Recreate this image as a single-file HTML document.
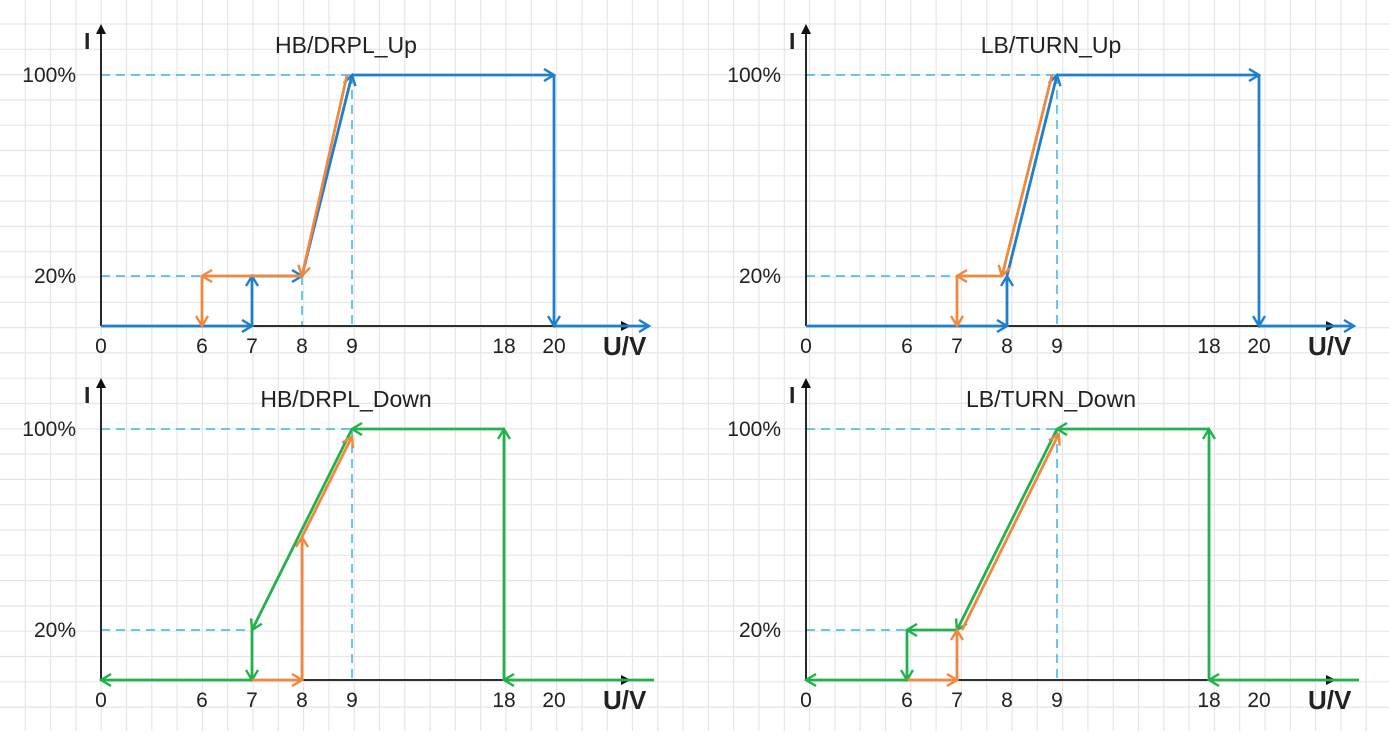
<!DOCTYPE html>
<html><head><meta charset="utf-8"><style>
html,body{margin:0;padding:0;background:#fff}
svg text{font-family:"Liberation Sans",sans-serif;fill:#222}
</style></head><body>
<svg id="c" width="1389" height="731" viewBox="0 0 1389 731" xmlns="http://www.w3.org/2000/svg">
<defs>
<marker id="ax" markerWidth="10" markerHeight="10" refX="8" refY="5" orient="auto" markerUnits="userSpaceOnUse"><path d="M0,0 L10,5 L0,10 Z" fill="#111"/></marker>
<marker id="mb" markerWidth="14" markerHeight="14" refX="12" refY="7" orient="auto" markerUnits="userSpaceOnUse"><path d="M2,1 L12,7 L2,13" fill="none" stroke="#1f7fce" stroke-width="2.4"/></marker>
<marker id="mo" markerWidth="14" markerHeight="14" refX="12" refY="7" orient="auto" markerUnits="userSpaceOnUse"><path d="M2,1 L12,7 L2,13" fill="none" stroke="#f0883e" stroke-width="2.4"/></marker>
<marker id="mg" markerWidth="14" markerHeight="14" refX="12" refY="7" orient="auto" markerUnits="userSpaceOnUse"><path d="M2,1 L12,7 L2,13" fill="none" stroke="#22b24c" stroke-width="2.4"/></marker>
</defs>
<g id="grid"></g>
<g id="plots"></g>
</svg>
<script>
// axis tick values
const xTicks = [0, 6, 7, 8, 9, 18, 20];
const yTicks = [0, 20, 100];
const yTickLabels = ["", "20%", "100%"];
const titles = ["HB/DRPL_Up", "LB/TURN_Up", "HB/DRPL_Down", "LB/TURN_Down"];
// series segments: [x1,y1,x2,y2] per panel
const blueTL = [[0,0,7,0],[7,0,7,20],[7,20,8,20],[8,20,9,100],[9,100,20,100],[20,100,20,0],[20,0,23.8,0]];
const orangeTL = [[8.9,100,8,20],[8,20,6,20],[6,20,6,0]];
const blueTR = [[0,0,8,0],[8,0,8,20],[8,20,9,100],[9,100,20,100],[20,100,20,0],[20,0,23.8,0]];
const orangeTR = [[8.9,100,7.9,20],[7.9,20,7,20],[7,20,7,0]];
const greenBL = [[24,0,18,0],[18,0,18,100],[18,100,9,100],[9,100,7,20],[7,20,7,0],[7,0,0,0]];
const orangeBL = [[7,0,8,0],[8,0,8,57],[8,57,9,97]];
const greenBR = [[24,0,18,0],[18,0,18,100],[18,100,9,100],[9,100,7,20],[7,20,6,20],[6,20,6,0],[6,0,0,0]];
const orangeBR = [[6,0,7,0],[7,0,7,20],[7.1,20,9.1,98]];
const dashH = [[6,20,100,9],[7,20,100,9],[7,20,100,9],[6,20,100,9]];
const dashV = [[8,9],[9],[9],[9]];

const NS="http://www.w3.org/2000/svg";
function mk(t,a,p){const e=document.createElementNS(NS,t);for(const k in a)e.setAttribute(k,a[k]);p.appendChild(e);return e;}
const g=document.getElementById('grid');
for(let x=25.3;x<1389;x+=25.3)mk('line',{x1:x,y1:0,x2:x,y2:731,stroke:'#e6e6e6','stroke-width':1.2},g);
for(let y=24;y<731;y+=25.3)mk('line',{x1:0,y1:y,x2:1389,y2:y,stroke:'#e6e6e6','stroke-width':1.2},g);
const xDom=[0,6,9,18,20,25], xRan=[0,101,251,403,453,578];
const yDom=[0,20,100], yRan=[0,-50,-251];
function pw(v,d,r){for(let i=0;i<d.length-1;i++){if(v<=d[i+1]||i==d.length-2){return r[i]+(v-d[i])/(d[i+1]-d[i])*(r[i+1]-r[i]);}}}
const panels=[{ox:101,oy:326},{ox:806,oy:326},{ox:101,oy:680},{ox:806,oy:680}];
const series=[[[blueTL,'#1f7fce','mb'],[orangeTL,'#f0883e','mo']],[[blueTR,'#1f7fce','mb'],[orangeTR,'#f0883e','mo']],[[greenBL,'#22b24c','mg'],[orangeBL,'#f0883e','mo']],[[greenBR,'#22b24c','mg'],[orangeBR,'#f0883e','mo']]];
const pl=document.getElementById('plots');
panels.forEach((p,i)=>{
  const X=v=>p.ox+pw(v,xDom,xRan), Y=v=>p.oy+pw(v,yDom,yRan);
  const grp=mk('g',{},pl);
  
  
  const dh=dashH[i];
  let d=mk('line',{x1:X(0),y1:Y(20),x2:X(dh[0]),y2:Y(20),stroke:'#3cb4f0','stroke-width':1.5,'stroke-dasharray':'9,6'},grp);
  
  d=mk('line',{x1:X(0),y1:Y(100),x2:X(dh[3]),y2:Y(100),stroke:'#3cb4f0','stroke-width':1.5,'stroke-dasharray':'9,6'},grp);
  
  dashV[i].forEach(v=>{const top=v===9?100:20;const l=mk('line',{x1:X(v),y1:Y(top),x2:X(v),y2:Y(0),stroke:'#3cb4f0','stroke-width':1.5,'stroke-dasharray':'9,6'},grp);
    });
  let a=mk('line',{x1:X(0),y1:Y(0),x2:X(0)+528,y2:Y(0),stroke:'#111','stroke-width':1.8,'marker-end':'url(#ax)'},grp);
  
  a=mk('line',{x1:X(0),y1:Y(0),x2:X(0),y2:Y(0)-300,stroke:'#111','stroke-width':1.8,'marker-end':'url(#ax)'},grp);
  
  series[i].forEach(([segs,col,m])=>{segs.forEach(s=>{
    const l=mk('line',{x1:X(s[0]),y1:Y(s[1]),x2:X(s[2]),y2:Y(s[3]),stroke:col,'stroke-width':2.8,'marker-end':'url(#'+m+')'},grp);
    });});
  xTicks.forEach(v=>{const t=mk('text',{x:X(v),y:Y(0)+27,'font-size':21,'text-anchor':'middle'},grp);t.textContent=v;
    });
  yTicks.forEach((v,k)=>{if(!yTickLabels[k])return;const t=mk('text',{x:X(0)-25,y:Y(v)+7,'font-size':21,'text-anchor':'end'},grp);t.textContent=yTickLabels[k];
    });
  let t=mk('text',{x:X(0)-17,y:Y(0)-277,'font-size':23,'font-weight':'bold'},grp);t.textContent='I';
  
  t=mk('text',{x:X(0)+502,y:Y(0)+29,'font-size':26,'font-weight':'bold'},grp);t.textContent='U/V';
  
  t=mk('text',{x:X(0)+245,y:Y(0)-273,'font-size':23,'text-anchor':'middle'},grp);t.textContent=titles[i];
  
});
</script>
</body></html>
